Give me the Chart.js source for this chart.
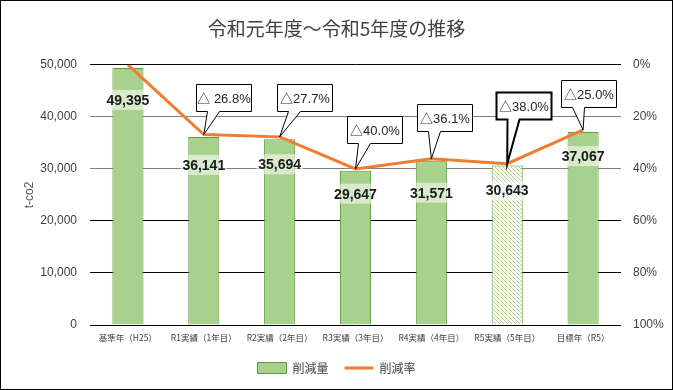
<!DOCTYPE html>
<html lang="ja">
<head>
<meta charset="UTF-8">
<title>令和元年度～令和5年度の推移</title>
<script src="https://cdn.jsdelivr.net/npm/chart.js"></script>
<style>
  html, body { margin: 0; padding: 0; background: #fff; }
  #wrap { position: relative; width: 673px; height: 390px; }
</style>
</head>
<body>
<div id="wrap"><canvas id="chart" width="673" height="390"></canvas></div>
<script>
// data
const categories = ['基準年（H25）', 'R1実績（1年目）', 'R2実績（2年目）', 'R3実績（3年目）', 'R4実績（4年目）', 'R5実績（5年目）', '目標年（R5）'];
const amounts = [49395, 36141, 35694, 29647, 31571, 30643, 37067];
const rates = [0, 26.8, 27.7, 40.0, 36.1, 38.0, 25.0];
const rateLabels = [null, '△ 26.8%', '△27.7%', '△40.0%', '△36.1%', '△38.0%', '△25.0%'];
const amountTicks = [0, 10000, 20000, 30000, 40000, 50000];
const rateTicks = [0, 20, 40, 60, 80, 100];

const FONT = "'Liberation Sans', 'Noto Sans CJK JP', sans-serif";
const JP = "'Noto Sans CJK JP', sans-serif";
const GREEN = '#a9d18e';
const GREEN_EDGE = '#5e9a3c';
const ORANGE = '#ed7d31';

// hatched fill for the R5 bar
function hatch() {
  const c = document.createElement('canvas');
  c.width = 4; c.height = 4;
  const g = c.getContext('2d');
  g.fillStyle = '#fff';
  g.fillRect(0, 0, 4, 4);
  g.strokeStyle = GREEN;
  g.lineWidth = 1;
  g.beginPath();
  g.moveTo(-1, -1); g.lineTo(5, 5);
  g.moveTo(-1, 3); g.lineTo(1, 5);
  g.moveTo(3, -1); g.lineTo(5, 1);
  g.stroke();
  return g.createPattern(c, 'repeat');
}
const ctx = document.getElementById('chart').getContext('2d');
const pattern = hatch();
const barColors = amounts.map((v, i) => i === 5 ? pattern : GREEN);

// where the value labels sit below each bar top (px)
const labelDrop = [32, 28, 25, 23, 32, 25, 24];
// callout box placement: left offset, bottom offset from the point, border width
const calloutPos = [null, [-8, -24, 1], [-3, -26, 1], [-9, -26, 1], [-14, -28, 1], [-11, -45, 2], [-22, -23, 1]];

const labelsPlugin = {
  id: 'labels',
  afterDatasetsDraw(chart) {
    const c = chart.ctx;
    const bars = chart.getDatasetMeta(1).data;
    c.save();
    c.font = "bold 14px " + FONT;
    c.textAlign = 'center';
    c.textBaseline = 'middle';
    bars.forEach((b, i) => {
      const t = amounts[i].toLocaleString('en-US');
      const w = c.measureText(t).width + 4;
      const y = b.y + labelDrop[i];
      c.fillStyle = 'rgba(255,255,255,0.55)';
      c.fillRect(b.x - w / 2, y - 10, w, 20);
      c.fillStyle = '#1a1a1a';
      c.fillText(t, b.x, y + 1);
    });

    const pts = chart.getDatasetMeta(0).data;
    c.font = "13px " + FONT;
    pts.forEach((p, i) => {
      if (!rateLabels[i]) return;
      const [dx, dy, bw] = calloutPos[i];
      const w = 55, h = 27;
      const left = Math.round(p.x + dx) + 0.5;
      const bottom = Math.round(p.y + dy) + 0.5;
      const top = bottom - h;
      c.beginPath();
      c.moveTo(left, top);
      c.lineTo(left + w, top);
      c.lineTo(left + w, bottom);
      c.lineTo(left + 23, bottom);
      c.lineTo(p.x, p.y);
      c.lineTo(left + 11, bottom);
      c.lineTo(left, bottom);
      c.closePath();
      c.fillStyle = '#fff';
      c.fill();
      c.lineWidth = bw;
      c.strokeStyle = '#000';
      c.stroke();
      c.fillStyle = '#262626';
      c.fillText(rateLabels[i], left + w / 2, top + h / 2 + 1);
    });
    c.restore();
  },
  afterDraw(chart) {
    const c = chart.ctx;
    c.save();
    c.strokeStyle = '#000';
    c.lineWidth = 1;
    c.strokeRect(0.5, 0.5, chart.width - 1, chart.height - 1);
    c.restore();
  }
};

new Chart(ctx, {
  data: {
    labels: categories,
    datasets: [{
      type: 'line',
      label: '削減率',
      data: rates,
      yAxisID: 'y1',
      borderColor: ORANGE,
      backgroundColor: ORANGE,
      borderWidth: 3,
      pointRadius: 0,
      tension: 0,
      order: 1
    }, {
      type: 'bar',
      label: '削減量',
      data: amounts,
      yAxisID: 'y',
      backgroundColor: barColors,
      borderColor: GREEN_EDGE,
      borderWidth: 1,
      barPercentage: 0.41,
      categoryPercentage: 1,
      order: 2
    }]
  },
  options: {
    responsive: false,
    animation: false,
    layout: { padding: { bottom: 6 } },
    plugins: {
      title: {
        display: true,
        text: '令和元年度～令和5年度の推移',
        color: '#404040',
        font: { family: JP, size: 19, weight: 'normal' },
        padding: { top: 17, bottom: 25 }
      },
      legend: {
        position: 'bottom',
        labels: {
          usePointStyle: true,
          pointStyleWidth: 29,
          boxHeight: 11,
          padding: 16,
          color: '#404040',
          font: { family: JP, size: 12 },
          generateLabels(chart) {
            return chart.data.datasets.slice().reverse().map(d => ({
              text: d.label,
              datasetIndex: chart.data.datasets.indexOf(d),
              pointStyle: d.type === 'line' ? 'line' : 'rect',
              fillStyle: d.type === 'line' ? ORANGE : GREEN,
              strokeStyle: d.type === 'line' ? ORANGE : GREEN_EDGE,
              lineWidth: d.type === 'line' ? 3 : 1,
              fontColor: '#404040'
            }));
          }
        }
      },
      tooltip: { enabled: false }
    },
    scales: {
      x: {
        grid: { display: false, drawTicks: false },
        border: { display: false },
        ticks: { color: '#404040', font: { family: JP, size: 8.5 }, padding: 8, maxRotation: 0, autoSkip: false },
        afterFit(s) { s.height = 21; }
      },
      y: {
        position: 'left',
        min: 0, max: 50000,
        afterBuildTicks(s) { s.ticks = amountTicks.map(v => ({ value: v })); },
        grid: {
          drawTicks: false,
          color: c => (c.tick.value === 30000 || c.tick.value === 40000) ? '#7f7f7f' : '#000',
          lineWidth: 1
        },
        border: { display: false },
        ticks: {
          color: '#404040',
          font: { family: FONT, size: 12 },
          padding: 13,
          callback: v => v.toLocaleString('en-US')
        },
        title: {
          display: true,
          text: 't-co2',
          color: '#595959',
          font: { family: FONT, size: 12 },
          padding: { top: 22, bottom: 0 }
        },
        afterFit(s) { s.width = 90; }
      },
      y1: {
        position: 'right',
        reverse: true,
        min: 0, max: 100,
        afterBuildTicks(s) { s.ticks = rateTicks.map(v => ({ value: v })); },
        grid: { display: false, drawTicks: false },
        border: { display: false },
        ticks: {
          color: '#404040',
          font: { family: FONT, size: 12 },
          padding: 12,
          callback: v => v + '%'
        },
        afterFit(s) { s.width = 52; }
      }
    }
  },
  plugins: [labelsPlugin]
});
</script>
</body>
</html>
